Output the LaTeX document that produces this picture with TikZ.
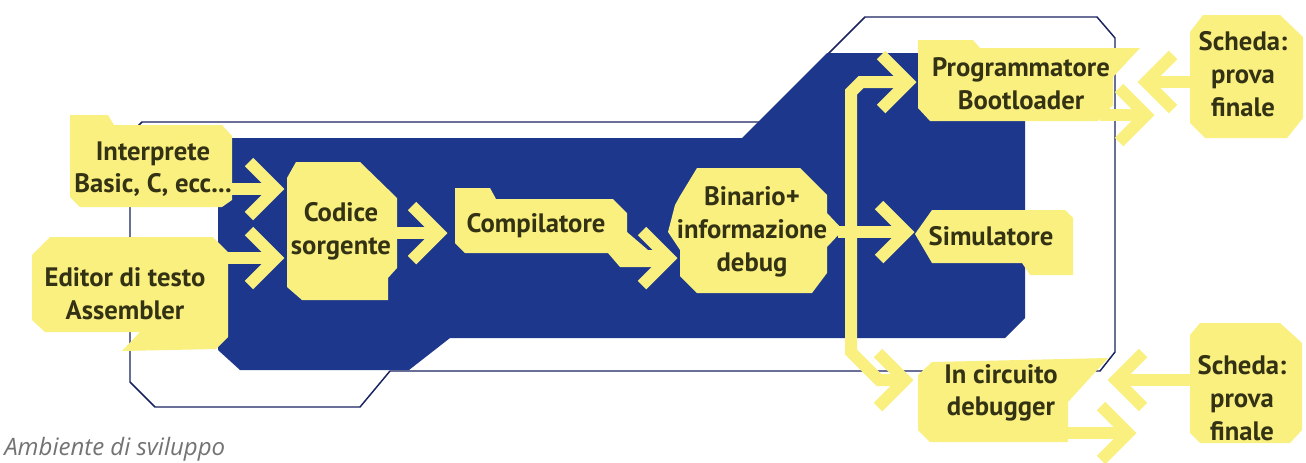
\documentclass[tikz,border=0pt]{standalone}
\usepackage{fontspec}
\setmainfont{PT Sans}
\newfontfamily\capfont{Open Sans}
\definecolor{yel}{RGB}{250,240,128}
\definecolor{navyfill}{RGB}{28,55,140}
\definecolor{navyline}{RGB}{25,35,95}
\definecolor{txt}{RGB}{52,50,20}
\definecolor{capgray}{RGB}{115,115,115}
\begin{document}
\begin{tikzpicture}[x=0.75pt,y=-0.75pt,
  outl/.style={draw=navyline, line width=1.1pt, line join=round},
  ybox/.style={fill=yel},
  lbl/.style={font=\bfseries\fontsize{20}{24.5}\selectfont, text=txt, align=center, inner sep=0pt},
  conn/.style={draw=yel, line width=9pt, line join=miter, shorten >=6pt},
  chevR/.pic={\draw[yel, line width=9pt, line join=miter, line cap=butt, shorten >=0pt, shorten <=0pt] (-36,-27) -- (-9,0) -- (-36,27);},
  chevL/.pic={\draw[yel, line width=9pt, line join=miter, line cap=butt, shorten >=0pt, shorten <=0pt] (36,-27) -- (9,0) -- (36,27);}
]
\useasboundingbox[fill=white] (0,0) rectangle (1306,462);

% outline of the environment
\draw[outl] (142,122) -- (760,122) -- (865,17) -- (1097,17) -- (1115,38) -- (1115,352) -- (1100,371) -- (390,371) -- (360,407) -- (155,407) -- (130,382) -- (130,134) -- cycle;
% blue field
\fill[navyfill] (218,138) -- (742,138) -- (827,53) -- (1025,53) -- (1025,318) -- (1005,338) -- (450,338) -- (409,370) -- (240,370) -- (218,350) -- cycle;

% yellow box shapes
\fill[ybox] (70,115) -- (108,115) -- (114,125) -- (222,125) -- (232,136) -- (232,200) -- (222,207) -- (80,207) -- (70,197) -- cycle;
\fill[ybox] (32,255) -- (50,237) -- (213,237) -- (228,252) -- (228,337) -- (216,349) -- (122,351) -- (140,332) -- (45,332) -- (32,320) -- cycle;
\fill[ybox] (296,162) -- (360,162) -- (397,198) -- (397,268) -- (388,278) -- (388,300) -- (302,300) -- (287,287) -- (287,178) -- cycle;
\fill[ybox] (455,188) -- (490,188) -- (496,199) -- (613,199) -- (627,213) -- (627,232) -- (648,250) -- (665,250) -- (665,267) -- (620,267) -- (608,253) -- (465,253) -- (455,243) -- cycle;
\fill[ybox] (697,168) -- (800,168) -- (827,195) -- (827,213) -- (843,230) -- (827,247) -- (827,273) -- (812,293) -- (697,293) -- (680,276) -- (680,250) -- (668,232) -- (675,205) -- (680,196) -- cycle;
\fill[ybox] (918,40) -- (973,40) -- (980,48) -- (1140,48) -- (1113,77) -- (1113,105) -- (1098,121) -- (930,121) -- (918,108) -- cycle;
\fill[ybox] (915,234) -- (932,210) -- (1065,210) -- (1073,218) -- (1073,275) -- (1030,275) -- (1022,263) -- (932,263) -- cycle;
\fill[ybox] (918,375) -- (932,362) -- (1108,358) -- (1068,402) -- (1068,442) -- (930,442) -- (918,430) -- cycle;
\fill[ybox] (1203,15) -- (1280,15) -- (1303,37) -- (1303,118) -- (1287,138) -- (1205,138) -- (1190,123) -- (1190,32) -- cycle;
\fill[ybox] (1200,323) -- (1280,323) -- (1302,343) -- (1302,430) -- (1290,443) -- (1200,443) -- (1190,433) -- (1190,335) -- cycle;

% connector end points
\coordinate (interp-o) at (226,189);  \coordinate (codice-i1) at (285,189);
\coordinate (editor-o) at (222,258);  \coordinate (codice-i2) at (285,258);
\coordinate (codice-o) at (392,233);  \coordinate (compil-i) at (448,233);
\coordinate (compil-o) at (655,258);  \coordinate (binario-i) at (678,258);
\coordinate (binario-o) at (838,232); \coordinate (bus) at (851,232); \coordinate (simul-i) at (915,232);
\coordinate (prog-i) at (917,82);     \coordinate (incirc-i) at (914,380);
\coordinate (prog-o) at (1100,115);   \coordinate (scheda1-i) at (1155,115);
\coordinate (scheda1-o) at (1195,82); \coordinate (prog-i2) at (1137,82);
\coordinate (scheda2-o) at (1195,380);\coordinate (incirc-i2) at (1107,380);
\coordinate (incirc-o) at (1060,433); \coordinate (scheda2-i) at (1137,433);

% connectors
\draw[conn] (interp-o) -- (codice-i1); \pic at (codice-i1) {chevR};
\draw[conn] (editor-o) -- (codice-i2); \pic at (codice-i2) {chevR};
\draw[conn] (codice-o) -- (compil-i);  \pic at (compil-i) {chevR};
\draw[conn] (compil-o) -- (binario-i); \pic at (binario-i) {chevR};
\draw[conn] (binario-o) -- (simul-i);  \pic at (simul-i) {chevR};
\draw[conn] (bus) -- (851,92) -- (861,82) -- (prog-i); \pic at (prog-i) {chevR};
\draw[conn] (bus) -- (851,352) -- (879,380) -- (incirc-i); \pic at (incirc-i) {chevR};
\draw[conn] (prog-o) -- (scheda1-i); \pic at (scheda1-i) {chevR};
\draw[conn] (scheda1-o) -- (prog-i2); \pic at (prog-i2) {chevL};
\draw[conn] (scheda2-o) -- (incirc-i2); \pic at (incirc-i2) {chevL};
\draw[conn] (incirc-o) -- (scheda2-i); \pic at (scheda2-i) {chevR};

% labels
\node[lbl] (interp) at (153,169) {Interprete\\Basic, C, ecc...};
\node[lbl] (editor) at (125,294) {Editor di testo\\Assembler};
\node[lbl] (codice) at (341,231) {Codice\\sorgente};
\node[lbl] (compil) at (536,226) {Compilatore};
\node[lbl] (binario) at (752,232) {Binario+\\informazione\\debug};
\node[lbl] (prog) at (1021,84) {Programmatore\\Bootloader};
\node[lbl] (simul) at (991,236) {Simulatore};
\node[lbl] (incirc) at (1001,393) {In circuito\\debugger};
\node[lbl] (scheda1) at (1243,74) {Scheda:\\prova\\finale};
\node[lbl] (scheda2) at (1242,398) {Scheda:\\prova\\finale};

% caption
\node[font=\capfont\itshape\fontsize{18}{22}\selectfont, text=capgray, anchor=base west, inner sep=0pt] (cap) at (4,455) {Ambiente di sviluppo};
\end{tikzpicture}
\end{document}
